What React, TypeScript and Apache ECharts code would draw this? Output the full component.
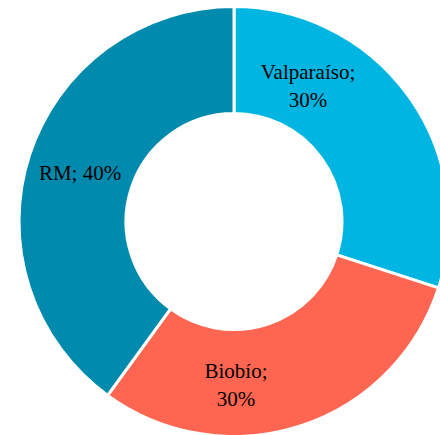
import React, { useEffect, useRef } from "react";
import * as echarts from "echarts";

const categories = ["Valparaíso", "Biobío", "RM"];
const values = [30, 30, 40];
const colors = ["#00B5E2", "#FF6652", "#008BAE"];
const labelSeparators = ["\n", "\n", " "];
const labelX = [308, 236, 80];
const labelY = [86, 385, 173];

export default function App() {
  const ref = useRef<HTMLDivElement>(null);
  useEffect(() => {
    if (!ref.current) return;
    const chart = echarts.init(ref.current, undefined, { renderer: "svg" });
    chart.setOption({
      animation: false,
      backgroundColor: "#ffffff",
      series: [
        {
          type: "pie",
          center: [234, 221.5],
          radius: [108, 215],
          startAngle: 90,
          clockwise: true,
          avoidLabelOverlap: false,
          itemStyle: { borderColor: "#ffffff", borderWidth: 3 },
          label: {
            show: true,
            position: "inside",
            fontFamily: "Liberation Serif",
            fontSize: 21,
            lineHeight: 28,
            color: "#000000",
            align: "center",
            formatter: (p: any) =>
              p.name + ";" + labelSeparators[p.dataIndex] + p.value + "%",
          },
          labelLayout: (p: any) => ({
            x: labelX[p.dataIndex],
            y: labelY[p.dataIndex],
            align: "center",
            verticalAlign: "middle",
          }),
          emphasis: { disabled: true },
          data: categories.map((c, i) => ({
            name: c,
            value: values[i],
            itemStyle: { color: colors[i] },
          })),
        },
      ],
    });
    return () => chart.dispose();
  }, []);
  return (
    <div
      ref={ref}
      style={{ position: "fixed", left: 0, top: 0, width: 440, height: 435 }}
    />
  );
}
